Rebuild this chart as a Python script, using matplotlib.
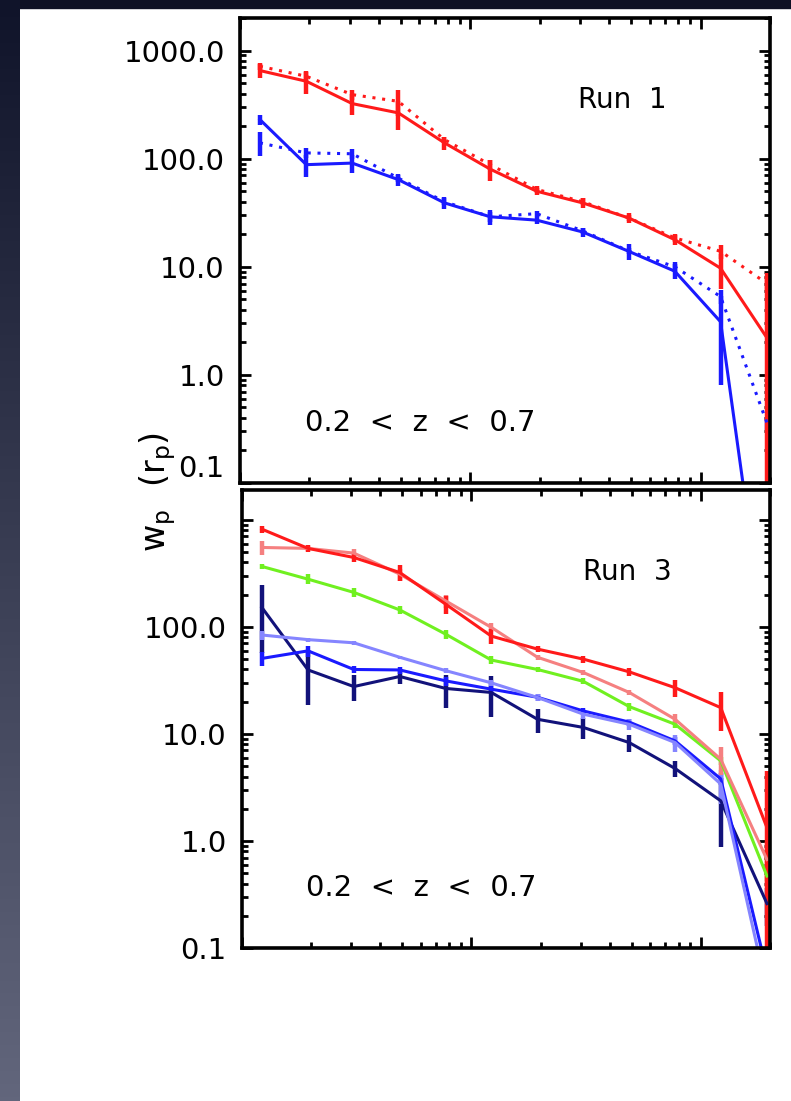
import numpy as np
import matplotlib
matplotlib.use('Agg')
import matplotlib.pyplot as plt
from matplotlib.patches import Rectangle
from matplotlib.colors import LinearSegmentedColormap
from matplotlib.ticker import LogLocator, NullFormatter, FixedLocator

# projected separation bins (same for every curve)
rp = [0.0122, 0.0194, 0.0307, 0.0487, 0.0772, 0.122, 0.194, 0.307, 0.487, 0.772, 1.22, 1.94]

# Run 1
run1_red = [653, 520, 323, 265, 140, 80, 50, 39, 28.3, 17.8, 9.7, 2.2]
run1_red_err = [100, 125, 70, 80, 20, 18, 4, 4, 3, 2, 3.5, 6.6]
run1_red_dot = [715, 578, 391, 339, 150, 88, 52, 40, 28.3, 18.5, 13.9, 7.0]
run1_red_dot_err = [50, 60, 40, 90, 10, 10, 4, 3, 2, 1.5, 2, 1]
run1_blue = [230, 88, 91, 64, 39, 29, 27, 21, 13.9, 9.1, 3.1, 0.0025]
run1_blue_err = [25, 20, 18, 8, 5, 4.5, 2, 2, 2.3, 1.4, 2.3, 0.001]
run1_blue_dot = [140, 113, 111, 66, 40, 29, 31, 21.5, 14, 10, 5.3, 0.36]
run1_blue_dot_err = [35, 12, 12, 5, 3, 3, 2, 1.5, 1, 1, 0.8, 0.05]

# Run 3
run3_navy = [152, 39.6, 27.7, 34.4, 26.6, 24.4, 13.7, 11.5, 8.3, 4.75, 2.37, 0.26]
run3_navy_err = [95, 21, 7.5, 5, 9, 10, 3.5, 2.5, 1.5, 0.8, 1.5, 0.1]
run3_blue = [50.7, 59.7, 40, 39.6, 31.3, 26.2, 22, 16.4, 12.9, 8.6, 3.8, 0.06]
run3_blue_err = [8, 7, 3, 3, 3, 2, 1.5, 1, 1, 0.8, 0.5, 0.01]
run3_lblue = [84, 76, 71, 52, 39, 30, 21.9, 15.3, 12.3, 8.3, 3.4, 0.04]
run3_lblue_err = [8, 3, 3, 2, 2, 2, 1.5, 1.5, 1.5, 1.5, 1.2, 0.01]
run3_green = [367, 279, 210, 144, 85.5, 49, 40, 31, 18, 12.3, 5.6, 0.47]
run3_green_err = [20, 30, 20, 12, 8, 4, 2, 2, 1.5, 1, 0.5, 0.05]
run3_pink = [552, 541, 489, 311, 175, 99, 52, 37.5, 24.4, 13.7, 5.8, 0.67]
run3_pink_err = [80, 30, 50, 40, 25, 10, 3, 2, 1.5, 1.5, 1.7, 0.3]
run3_red = [819, 541, 445, 322, 163, 82, 62, 50, 38, 27, 17.6, 1.33]
run3_red_err = [60, 40, 40, 55, 30, 13, 4, 4, 3, 5, 7, 3.2]

ytick_vals = [0.1, 1, 10, 100, 1000]
ytick_top = ['0.1', '1.0', '10.0', '100.0', '1000.0']
ytick_bot = ['0.1', '1.0', '10.0', '100.0', '']

W, H = 791, 1101
fig = plt.figure(figsize=(W / 100, H / 100), dpi=100)
fig.patch.set_facecolor('white')

# dark slide border (left + top)
edge = fig.add_axes([0, 0, 20 / W, 1])
grad = np.linspace(0, 1, 256).reshape(-1, 1)
edge.imshow(grad, aspect='auto', origin='upper', extent=[0, 1, 0, 1],
            cmap=LinearSegmentedColormap.from_list('edge', ['#10142a', '#62667c']))
edge.axis('off')
fig.add_artist(Rectangle((0, 1 - 8 / H), 1, 8 / H, transform=fig.transFigure,
                         color='#0e1124', zorder=0))


def px_axes(x0, y0, x1, y1):
    return fig.add_axes([x0 / W, 1 - y1 / H, (x1 - x0) / W, (y1 - y0) / H])


def style(ax, ymax, labels):
    ax.set_xscale('log')
    ax.set_yscale('log')
    ax.set_xlim(0.01, 2.0)
    ax.set_ylim(0.1, ymax)
    ax.yaxis.set_major_locator(FixedLocator(ytick_vals))
    ax.set_yticklabels(labels)
    ax.yaxis.set_minor_locator(LogLocator(base=10, subs=np.arange(2, 10), numticks=50))
    ax.yaxis.set_minor_formatter(NullFormatter())
    ax.xaxis.set_major_locator(FixedLocator([0.01, 0.1, 1]))
    ax.xaxis.set_minor_locator(LogLocator(base=10, subs=np.arange(2, 10), numticks=50))
    ax.xaxis.set_major_formatter(NullFormatter())
    ax.xaxis.set_minor_formatter(NullFormatter())
    ax.tick_params(which='both', direction='in', top=True, right=True, width=2.0)
    ax.tick_params(which='major', length=8, labelsize=21, pad=11)
    ax.tick_params(which='minor', length=4)
    for s in ax.spines.values():
        s.set_linewidth(2.6)
    ax.set_facecolor('none')


def curve(ax, y, e, c, ls='-'):
    ax.errorbar(rp, y, yerr=e, color=c, lw=2.2, elinewidth=3.2, capsize=0, ls=ls)


dots = (0, (1, 2.2))

ax1 = px_axes(240, 18, 770, 483)
style(ax1, 2000, ytick_top)
curve(ax1, run1_blue_dot, run1_blue_dot_err, '#1a1aff', dots)
curve(ax1, run1_red_dot, run1_red_dot_err, '#ff1a1a', dots)
curve(ax1, run1_blue, run1_blue_err, '#1a1aff')
curve(ax1, run1_red, run1_red_err, '#ff1a1a')
ax1.get_yticklabels()[0].set_va('bottom')
ax1.text(0.722, 0.823, 'Run  1', transform=ax1.transAxes, fontsize=20,
         ha='center', va='center')
ax1.text(0.34, 0.13, '0.2  <  z  <  0.7', transform=ax1.transAxes, fontsize=21,
         ha='center', va='center')

ax2 = px_axes(242, 490, 770, 948)
style(ax2, 1900, ytick_bot)
curve(ax2, run3_navy, run3_navy_err, '#12127a')
curve(ax2, run3_blue, run3_blue_err, '#1a1aff')
curve(ax2, run3_lblue, run3_lblue_err, '#8585ff')
curve(ax2, run3_green, run3_green_err, '#70f020')
curve(ax2, run3_pink, run3_pink_err, '#f58080')
curve(ax2, run3_red, run3_red_err, '#ff1a1a')
ax2.text(0.73, 0.82, 'Run  3', transform=ax2.transAxes, fontsize=20,
         ha='center', va='center')
ax2.text(0.34, 0.13, '0.2  <  z  <  0.7', transform=ax2.transAxes, fontsize=21,
         ha='center', va='center')

fig.text(158 / W, 1 - 492 / H, r'$\mathregular{w_p\ \ (r_p)}$', rotation=90,
         fontsize=24, ha='center', va='center')

fig.savefig('out.png', dpi=100)
